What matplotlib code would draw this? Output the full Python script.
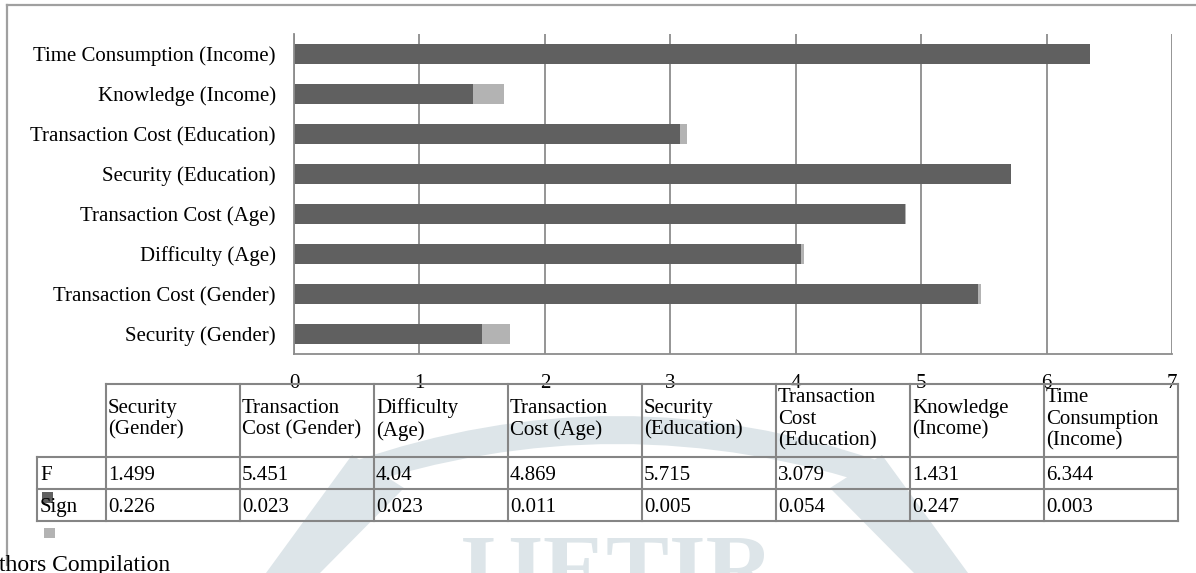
import numpy as np
import matplotlib
matplotlib.use("Agg")
import matplotlib.pyplot as plt
from matplotlib.patches import Polygon, Rectangle
from matplotlib.path import Path
from matplotlib.patches import PathPatch

# ---- data -------------------------------------------------------------
categories = [
    "Security (Gender)",
    "Transaction Cost (Gender)",
    "Difficulty (Age)",
    "Transaction Cost (Age)",
    "Security (Education)",
    "Transaction Cost (Education)",
    "Knowledge (Income)",
    "Time Consumption (Income)",
]
header_labels = [
    "Security\n(Gender)",
    "Transaction\nCost (Gender)",
    "Difficulty\n(Age)",
    "Transaction\nCost (Age)",
    "Security\n(Education)",
    "Transaction\nCost\n(Education)",
    "Knowledge\n(Income)",
    "Time\nConsumption\n(Income)",
]
f_values = [1.499, 5.451, 4.04, 4.869, 5.715, 3.079, 1.431, 6.344]
sign_values = [0.226, 0.023, 0.023, 0.011, 0.005, 0.054, 0.247, 0.003]
series_names = ["F", "Sign"]
x_ticks = [0, 1, 2, 3, 4, 5, 6, 7]

# ---- style ------------------------------------------------------------
SERIF = "Liberation Serif"
DARK = "#606060"
LIGHT = "#b3b3b3"
GRID = "#8c8c8c"
LINE = "#858585"
WM = "#dde5e9"
FS = 15

W, H = 1196, 573
fig = plt.figure(figsize=(W / 100, H / 100), dpi=100)
fig.patch.set_facecolor("white")

# full-figure layers in pixel units (y grows downward)
back = fig.add_axes([0, 0, 1, 1], zorder=0)
front = fig.add_axes([0, 0, 1, 1], zorder=3)
for layer in (back, front):
    layer.set_xlim(0, W)
    layer.set_ylim(H, 0)
    layer.axis("off")
    layer.patch.set_alpha(0)

# faint page watermark
back.add_patch(Polygon([(266, 573), (320, 573), (404, 488), (352, 455)],
                       closed=True, fc=WM, ec="none"))
back.add_patch(Polygon([(968, 573), (914, 573), (830, 488), (882, 455)],
                       closed=True, fc=WM, ec="none"))
arch = Path([(352, 462), (617, 370), (882, 462), (882, 488), (617, 400),
             (352, 488), (352, 462)],
            [Path.MOVETO, Path.CURVE3, Path.CURVE3, Path.LINETO,
             Path.CURVE3, Path.CURVE3, Path.CLOSEPOLY])
back.add_patch(PathPatch(arch, fc=WM, ec="none"))
back.text(617, 534, "IJETIR", ha="center", va="top", color=WM,
          fontsize=68, fontweight="bold", family=SERIF)

# ---- bar chart --------------------------------------------------------
ax = fig.add_axes([294 / W, 1 - 354 / H, (1172 - 294) / W, 320 / H], zorder=2)
ax.patch.set_facecolor("white")
y = np.arange(len(categories))
ax.barh(y, f_values, height=0.52, color=DARK, label=series_names[0], zorder=2)
ax.barh(y, sign_values, left=f_values, height=0.52, color=LIGHT,
        label=series_names[1], zorder=2)
ax.set_xlim(0, 7)
ax.set_ylim(-0.5, len(categories) - 0.5)
ax.set_xticks(x_ticks)
ax.set_xticklabels([str(t) for t in x_ticks], family=SERIF, fontsize=FS)
ax.set_yticks(y)
ax.set_yticklabels(categories, family=SERIF, fontsize=FS)
ax.tick_params(axis="x", length=0, pad=14.5)
ax.tick_params(axis="y", length=0, pad=13)
ax.grid(axis="x", color=GRID, linewidth=1.3)
ax.set_axisbelow(True)
for side in ("top", "right"):
    ax.spines[side].set_visible(False)
for side in ("left", "bottom"):
    ax.spines[side].set_color(GRID)
    ax.spines[side].set_linewidth(1.3)

# ---- data table -------------------------------------------------------
col_x = [106 + 134 * i for i in range(len(categories) + 1)]
lab_x0 = 37
y_top, y_head, y_f, y_s = 384, 457, 489, 521
lw = 1.5
front.plot([col_x[0], col_x[-1]], [y_top, y_top], color=LINE, lw=lw)
for yy in (y_head, y_f, y_s):
    front.plot([lab_x0, col_x[-1]], [yy, yy], color=LINE, lw=lw)
for xx in col_x:
    front.plot([xx, xx], [y_top, y_s], color=LINE, lw=lw)
front.plot([lab_x0, lab_x0], [y_head, y_s], color=LINE, lw=lw)

for i, lab in enumerate(header_labels):
    front.text(col_x[i] + 2, (y_top + y_head) / 2 - 1, lab, ha="left",
               va="center", family=SERIF, fontsize=FS, linespacing=1.17)

rows = [(series_names[0], f_values, y_head, y_f),
        (series_names[1], sign_values, y_f, y_s)]
for name, vals, r0, r1 in rows:
    yc = (r0 + r1) / 2
    front.text(lab_x0 + 3, yc + 7, name, ha="left", va="baseline",
               family=SERIF, fontsize=FS)
    for i, v in enumerate(vals):
        front.text(col_x[i] + 2, yc + 7, str(v), ha="left", va="baseline",
                   family=SERIF, fontsize=FS)

# legend keys of the data table
front.add_patch(Rectangle((42, 492), 11, 11, fc=DARK, ec="none", zorder=1))
front.add_patch(Rectangle((44, 528), 11, 10, fc=LIGHT, ec="none"))

# chart frame and source line
front.plot([7, W], [5, 5], color="#a0a0a0", lw=1.6)
front.plot([7, 7], [5, 565], color="#a0a0a0", lw=1.6)
front.text(-1, 555, "thors Compilation", ha="left", va="top",
           family=SERIF, fontsize=17)

fig.savefig("out.png", dpi=100)
